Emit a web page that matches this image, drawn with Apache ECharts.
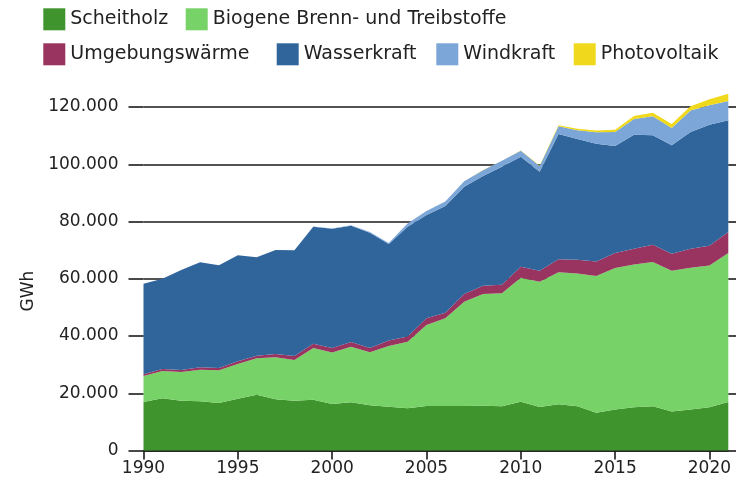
<!DOCTYPE html>
<html>
<head>
<meta charset="utf-8">
<script src="https://cdn.jsdelivr.net/npm/echarts@6/dist/echarts.min.js"></script>
<style>
html,body{margin:0;padding:0;background:#fff;}
#chart{width:736px;height:493px;}
</style>
</head>
<body>
<div id="chart"></div>
<script>
const years = ['1990','1991','1992','1993','1994','1995','1996','1997','1998','1999','2000','2001','2002','2003','2004','2005','2006','2007','2008','2009','2010','2011','2012','2013','2014','2015','2016','2017','2018','2019','2020','2021'];
const yTicks = [0, 20000, 40000, 60000, 80000, 100000, 120000];

const scheitholz = [16940,18230,17400,17180,16590,18100,19500,17880,17400,17700,16240,16830,15780,15310,14730,15540,15540,15540,15660,15430,17050,15190,16130,15500,13160,14330,15150,15500,13630,14330,15150,16900];
const biogene = [9080,9540,10020,11050,11410,12120,12700,14670,14210,18100,17960,19440,18520,21190,23270,28300,30630,36440,39010,39470,43310,43780,46120,46300,47770,49400,49850,50320,49160,49510,49510,52070];
const umgebung = [580,700,700,830,820,930,910,1150,1400,1500,1600,1630,1500,1900,1850,2330,1970,2690,2900,3020,3850,3840,4530,4800,5120,5240,5480,6060,5950,6640,6870,7340];
const wasser = [31670,31540,34930,36680,35870,37030,34370,36330,36920,40870,41700,40630,40290,33730,38320,36090,37260,37480,38310,41210,38410,34580,43770,42200,41130,37390,39850,38210,37860,40780,42290,39030];
const wind = [0,0,0,0,3,10,20,50,60,80,80,140,200,350,1100,1400,1600,1900,2050,2050,2100,2000,2700,3100,4000,4900,5500,6700,6100,7500,6800,6750];
const pv = [0,0,0,0,0,0,0,0,0,0,0,0,0,0,0,0,0,0,30,50,90,170,350,500,580,810,1050,1160,1400,1520,2090,2560];

const FONT = '"DejaVu Sans", sans-serif';
const TXT = '#222222';
const GRID = '#1a1a1a';

function mk(name, data, color) {
  return {
    name: name, type: 'line', stack: 'total', data: data,
    symbol: 'none', showSymbol: false, clip: false,
    lineStyle: { width: 0 }, itemStyle: { color: color },
    areaStyle: { color: color, opacity: 1 },
    emphasis: { disabled: true }
  };
}

function leg(name, left, top) {
  return {
    left: left, top: top, data: [name], padding: 0,
    itemWidth: 22, itemHeight: 22, itemGap: 14, icon: 'rect',
    selectedMode: false,
    textStyle: { fontFamily: FONT, fontSize: 19, color: TXT }
  };
}

const chart = echarts.init(document.getElementById('chart'), null, { renderer: 'canvas' });
chart.setOption({
  animation: false,
  backgroundColor: '#ffffff',
  textStyle: { fontFamily: FONT },
  legend: [
    leg('Scheitholz', 43.3, 8.3),
    leg('Biogene Brenn- und Treibstoffe', 185.7, 8.3),
    leg('Umgebungswärme', 43.3, 43.3),
    leg('Wasserkraft', 276.7, 43.3),
    leg('Windkraft', 436.3, 43.3),
    leg('Photovoltaik', 573.7, 43.3)
  ],
  grid: { left: 143.5, right: 7.7, top: 107, bottom: 42.5, containLabel: false },
  xAxis: {
    type: 'category', data: years, boundaryGap: false,
    axisLine: { show: true, lineStyle: { color: GRID, width: 1.6 } },
    axisTick: { show: true, length: 9, interval: function (i) { return i % 5 === 0; }, lineStyle: { color: GRID, width: 1.6 } },
    axisLabel: { interval: function (i) { return i % 5 === 0; }, margin: 10, fontFamily: FONT, fontSize: 17, color: TXT },
    splitLine: { show: false }
  },
  yAxis: [{
    type: 'value', min: 0, max: 120000, interval: 20000,
    axisLine: { show: false },
    axisTick: { show: true, length: 15, lineStyle: { color: GRID, width: 1.6 } },
    axisLabel: {
      margin: 25, fontFamily: FONT, fontSize: 17, color: TXT,
      formatter: function (v) { return v === 0 ? '0' : String(v).replace(/\B(?=(\d{3})+(?!\d))/g, '.'); }
    },
    splitLine: { show: true, lineStyle: { color: GRID, width: 1.6 } }
  }, {
    type: 'value', position: 'right', min: 0, max: 120000, interval: 20000,
    axisLine: { show: false },
    axisTick: { show: true, length: 8, lineStyle: { color: GRID, width: 1.6 } },
    axisLabel: { show: false },
    splitLine: { show: false }
  }],
  graphic: [{
    type: 'text', x: 29, y: 291, rotation: Math.PI / 2,
    style: { text: 'GWh', fontFamily: FONT, fontSize: 17, fill: TXT, align: 'center', verticalAlign: 'middle' }
  }],
  series: [
    mk('Scheitholz', scheitholz, '#3f942e'),
    mk('Biogene Brenn- und Treibstoffe', biogene, '#77d267'),
    mk('Umgebungswärme', umgebung, '#993360'),
    mk('Wasserkraft', wasser, '#30659c'),
    mk('Windkraft', wind, '#7ba6d7'),
    mk('Photovoltaik', pv, '#f0d91c')
  ]
});
</script>
</body>
</html>
